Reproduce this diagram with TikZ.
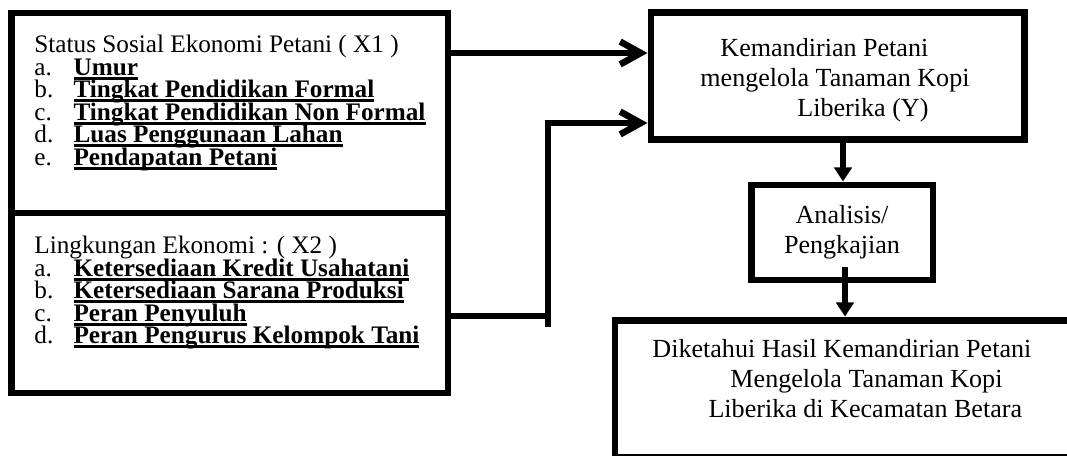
\documentclass[tikz,border=0pt]{standalone}
\usepackage{fontspec}
\setmainfont{Liberation Serif}
\usepackage{tikz}
\usetikzlibrary{arrows.meta}
\tikzstyle{none}=[inner sep=0pt]
\tikzstyle{block}=[rectangle,draw=black,fill=none,line width=3.2pt,inner sep=0pt]
\tikzstyle{txt}=[inner sep=0pt,font={\fontsize{11.6}{10.35}\selectfont\lineskiplimit=-10pt}]
\tikzstyle{simple}=[-,line width=3pt]
\tikzstyle{openarrow}=[-{Straight Barb[length=9.5pt,width=10.5pt]},line width=3pt]
\tikzstyle{downarrow}=[-{Triangle[length=6.5pt,width=8pt]},line width=2.6pt]
\pgfdeclarelayer{edgelayer}
\pgfdeclarelayer{nodelayer}
\pgfsetlayers{edgelayer,nodelayer,main}
\newsavebox{\ulbox}
\newcommand{\ulbf}[1]{\sbox{\ulbox}{\textbf{#1}}\rlap{\rule[-1.9pt]{\wd\ulbox}{1.3pt}}\usebox{\ulbox}}
\newcommand{\itm}[2]{\makebox[18pt][l]{#1}\ulbf{#2}}

\begin{document}
\begin{tikzpicture}[x=0.46pt,y=-0.46pt]
	\useasboundingbox (0,0) rectangle (1067,455);
	\begin{pgfonlayer}{nodelayer}
		\node [style=block, minimum width=201pt, minimum height=92pt] (X1) at (229.5, 113) {};
		\node [style=block, minimum width=201pt, minimum height=82.8pt] (X2) at (229.5, 303) {};
		\node [style=block, minimum width=171.6pt, minimum height=58pt] (Y) at (837.5, 76) {};
		\node [style=block, minimum width=83.7pt, minimum height=43.7pt] (A) at (842, 232.5) {};
		\node [style=block, minimum width=213.9pt, minimum height=63pt] (H) at (847.5, 388.5) {};
		\node [style=txt, anchor=north west, align=left] (x1text) at (34, 35) {Status Sosial Ekonomi Petani ( X1 )\\
			\itm{a.}{Umur}\\
			\itm{b.}{Tingkat Pendidikan Formal}\\
			\itm{c.}{Tingkat Pendidikan Non Formal}\\
			\itm{d.}{Luas Penggunaan Lahan}\\
			\itm{e.}{Pendapatan Petani}};
		\node [style=txt, anchor=north west, align=left] (x2text) at (34, 236) {Lingkungan Ekonomi : ( X2 )\\
			\itm{a.}{Ketersediaan Kredit Usahatani}\\
			\itm{b.}{Ketersediaan Sarana Produksi}\\
			\itm{c.}{Peran Penyuluh}\\
			\itm{d.}{Peran Pengurus Kelompok Tani}};
		\node [style=txt, anchor=north west, align=left, font=\fontsize{12}{13.8}\selectfont] (ytext) at (700, 38) {\hspace*{9.2pt}Kemandirian Petani\\
			mengelola Tanaman Kopi\\
			\hspace*{44.6pt}Liberika (Y)};
		\node [style=txt, anchor=north, align=center, font=\fontsize{12}{13.8}\selectfont] (atext) at (842, 205) {Analisis/\\Pengkajian};
		\node [style=txt, anchor=north west, align=left, font=\fontsize{12}{13.8}\selectfont] (htext) at (652, 339) {Diketahui Hasil Kemandirian Petani\\
			\hspace*{35.9pt}Mengelola Tanaman Kopi\\
			\hspace*{25.8pt}Liberika di Kecamatan Betara};
		\coordinate (p1) at (448, 53);
		\coordinate (j) at (548, 316);
		\coordinate (tail) at (548, 327);
		\coordinate (bend) at (548, 123);
		\coordinate (d1) at (843, 139);
		\coordinate (d2) at (845, 267);
	\end{pgfonlayer}
	\begin{pgfonlayer}{edgelayer}
		\draw [style=openarrow] (p1) to (p1 -| Y.west);
		\draw [style=simple] (X2.east |- j) to (j);
		\draw [style=openarrow] (tail) -- (bend) -- (bend -| Y.west);
		\draw [style=downarrow] (d1) to (d1 |- A.north);
		\draw [style=downarrow] (d2) to (d2 |- H.north);
	\end{pgfonlayer}
\end{tikzpicture}
\end{document}
